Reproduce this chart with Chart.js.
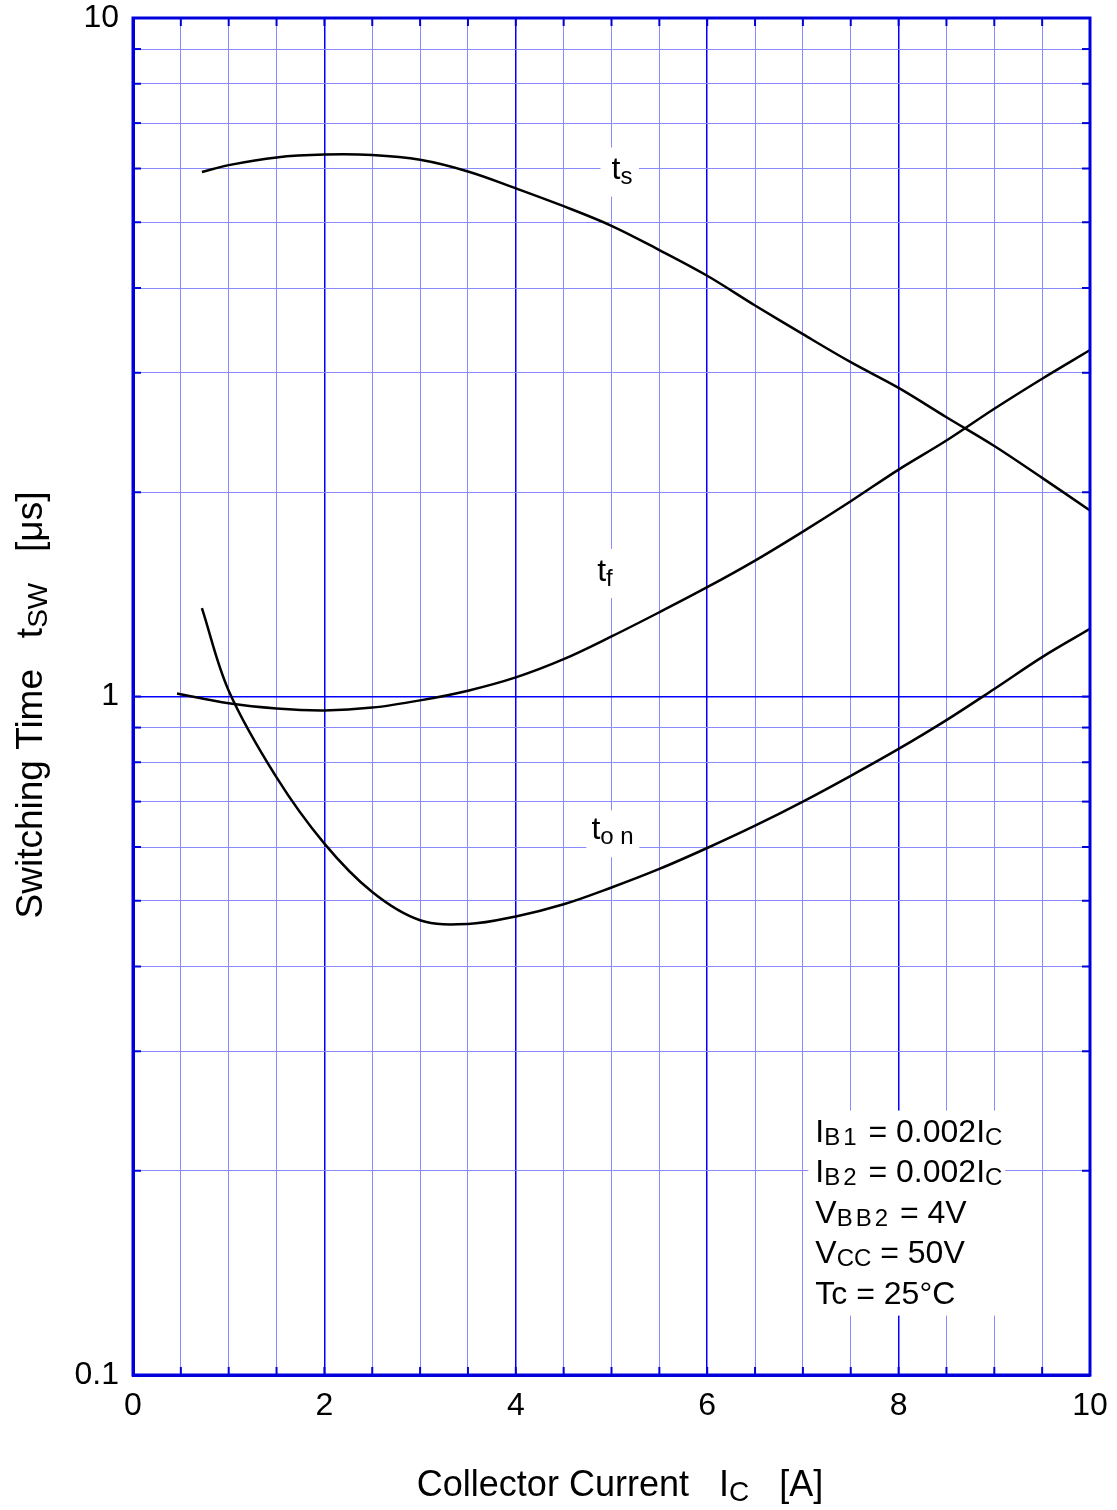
<!DOCTYPE html>
<html><head><meta charset="utf-8">
<script src="https://cdn.jsdelivr.net/npm/chart.js@4.4.1/dist/chart.umd.min.js"></script>
<style>html,body{margin:0;padding:0;background:#fff}canvas{display:block}</style>
</head><body>
<canvas id="c" width="1117" height="1510"></canvas>
<script>
// ---- axis grid / tick labels ----
const X_GRID = [0,0.5,1,1.5,2,2.5,3,3.5,4,4.5,5,5.5,6,6.5,7,7.5,8,8.5,9,9.5,10];
const X_TICK_LABELS = ['0','2','4','6','8','10'];
const Y_GRID = [0.1,0.2,0.3,0.4,0.5,0.6,0.7,0.8,0.9,1,2,3,4,5,6,7,8,9,10];
const Y_TICK_LABELS = ['0.1','1','10'];

// ---- series: storage time ts ----
const TS_IC = [0.72,1.0,1.5,2.0,2.5,3.0,3.5,4.0,4.5,5.0,5.5,6.0,6.5,7.0,7.5,8.0,8.5,9.0,9.5,10];
const TS_T  = [5.93,6.07,6.23,6.29,6.28,6.18,5.94,5.61,5.28,4.94,4.55,4.17,3.77,3.42,3.11,2.85,2.58,2.34,2.10,1.88];
// ---- fall time tf ----
const TF_IC = [0.46,1.0,1.5,2.0,2.5,3.0,3.5,4.0,4.5,5.0,5.5,6.0,6.5,7.0,7.5,8.0,8.5,9.0,9.5,10];
const TF_T  = [1.01,0.977,0.960,0.954,0.963,0.987,1.02,1.067,1.135,1.226,1.331,1.449,1.586,1.75,1.94,2.16,2.384,2.655,2.94,3.24];
// ---- turn-on time ton ----
const TON_IC = [0.72,1.0,1.5,2.0,2.5,3.0,3.5,4.0,4.5,5.0,5.5,6.0,6.5,7.0,7.5,8.0,8.5,9.0,9.5,10];
const TON_T  = [1.35,1.02,0.760,0.607,0.515,0.468,0.462,0.474,0.494,0.523,0.557,0.598,0.645,0.700,0.764,0.837,0.923,1.026,1.143,1.258];

const SERIES_NAMES = ['ts','tf','ton'];
const CONDITIONS = [
  [['I',0],['B1',1],[' = 0.002I',0],['C',1]],
  [['I',0],['B2',1],[' = 0.002I',0],['C',1]],
  [['V',0],['BB2',1],[' = 4V',0]],
  [['V',0],['CC',1],[' = 50V',0]],
  [['Tc = 25°C',0]]
];

const FONT = "'Liberation Sans', Arial, sans-serif";
const MAJOR = '#0000ff', MINOR = '#8a8aff', BORDER = '#0000dd';

function pts(xs, ys){ return xs.map((x,i)=>({x:x, y:ys[i]})); }

function drawRuns(ctx, runs, x, y, align){
  let w = 0;
  runs.forEach(r=>{ ctx.font = r.size+'px '+FONT; ctx.letterSpacing = (r.ls||0)+'px'; r.w = ctx.measureText(r.t).width; w += r.w; });
  let cx = align==='center' ? x - w/2 : x;
  ctx.textAlign = 'left'; ctx.textBaseline = 'alphabetic'; ctx.fillStyle = '#000';
  runs.forEach(r=>{ ctx.font = r.size+'px '+FONT; ctx.letterSpacing = (r.ls||0)+'px'; ctx.fillText(r.t, cx, y + (r.dy||0)); cx += r.w; });
  ctx.letterSpacing = '0px';
  return w;
}

const decor = {
  id: 'decor',
  beforeDatasetsDraw(chart){
    const ctx = chart.ctx, xs = chart.scales.x, ys = chart.scales.y;
    ctx.save();
    const labels = [
      {x:5.0, y:5.8, sub:'s', box:[-11,-31,24,14]},
      {x:4.85, y:1.48, sub:'f', box:[-4,-32,23,13]},
      {x:4.79, y:0.616, sub:'o n', box:[-5,-29,46,14]}
    ];
    labels.forEach(l=>{
      const px = xs.getPixelForValue(l.x), py = ys.getPixelForValue(l.y);
      ctx.font = '23px '+FONT;
      const subW = ctx.measureText(l.sub).width;
      ctx.fillStyle = '#fff';
      ctx.fillRect(px + l.box[0], py + l.box[1], 10 + subW - l.box[0] + 6, l.box[3] - l.box[1] + 4);
      drawRuns(ctx, [{t:'t', size:32}, {t:l.sub, size:24, dy:5}], px, py, 'left');
    });
    const cx0 = xs.getPixelForValue(7.13), cy0 = ys.getPixelForValue(0.2208);
    ctx.fillStyle = '#fff';
    ctx.fillRect(cx0 - 7, cy0 - 31, 197, 205);
    CONDITIONS.forEach((line, i)=>{
      const runs = line.map(s => s[1] ? {t:s[0], size:24, dy:3, ls:(s[0].length>1 && /\d/.test(s[0]))?3:0} : {t:s[0], size:32});
      drawRuns(ctx, runs, cx0, cy0 + i*40.6, 'left');
    });
    ctx.restore();
  },
  afterDraw(chart){
    const ctx = chart.ctx, a = chart.chartArea, xs = chart.scales.x, ys = chart.scales.y;
    ctx.save();
    ctx.strokeStyle = BORDER; ctx.lineWidth = 2;
    X_GRID.slice(1,-1).forEach(v=>{
      const p = xs.getPixelForValue(v);
      ctx.beginPath(); ctx.moveTo(p, a.top); ctx.lineTo(p, a.top+8); ctx.stroke();
      ctx.beginPath(); ctx.moveTo(p, a.bottom); ctx.lineTo(p, a.bottom-8); ctx.stroke();
    });
    Y_GRID.slice(1,-1).forEach(v=>{
      const p = ys.getPixelForValue(v);
      ctx.beginPath(); ctx.moveTo(a.left, p); ctx.lineTo(a.left+8, p); ctx.stroke();
      ctx.beginPath(); ctx.moveTo(a.right, p); ctx.lineTo(a.right-8, p); ctx.stroke();
    });
    ctx.lineWidth = 3;
    ctx.strokeRect(a.left, a.top, a.right-a.left, a.bottom-a.top);
    drawRuns(ctx, [{t:'Collector Current   I', size:36}, {t:'C', size:28, dy:5}, {t:'   [A]', size:36}], 620, 1496, 'center');
    ctx.translate(42, 705); ctx.rotate(-Math.PI/2);
    drawRuns(ctx, [{t:'Switching Time   t', size:37}, {t:'SW', size:28, dy:5}, {t:'   [\u03bcs]', size:37}], 0, 0, 'center');
    ctx.restore();
  }
};

const lineStyle = {borderColor:'#000', borderWidth:2.5, pointRadius:0, fill:false, tension:0.35};

new Chart(document.getElementById('c'), {
  type: 'line',
  data: { datasets: [
    Object.assign({label:SERIES_NAMES[0], data:pts(TS_IC, TS_T)}, lineStyle),
    Object.assign({label:SERIES_NAMES[1], data:pts(TF_IC, TF_T)}, lineStyle),
    Object.assign({label:SERIES_NAMES[2], data:pts(TON_IC, TON_T)}, lineStyle)
  ]},
  options: {
    responsive:false, animation:false, devicePixelRatio:1,
    layout:{padding:{top:18, right:27, left:0, bottom:0}},
    plugins:{legend:{display:false}, tooltip:{enabled:false}},
    scales:{
      x:{
        type:'linear', min:0, max:10,
        afterBuildTicks(s){ s.ticks = X_GRID.map(v=>({value:v})); },
        afterFit(s){ s.height = 135; s.paddingLeft = 0; s.paddingRight = 0; },
        ticks:{ autoSkip:false, maxRotation:0, padding:12, color:'#000', font:{family:FONT, size:32},
          callback(v){ const t = String(v); return X_TICK_LABELS.includes(t) ? t : ''; } },
        grid:{ drawTicks:false, color(c){ return (c.tick && c.tick.value % 2 === 0) ? MAJOR : MINOR; },
          lineWidth(c){ return (c.tick && c.tick.value % 2 === 0) ? 1.5 : 1; } },
        border:{ display:true, color:BORDER, width:3 }
      },
      y:{
        type:'logarithmic', min:0.1, max:10,
        afterBuildTicks(s){ s.ticks = Y_GRID.map(v=>({value:v})); },
        afterFit(s){ s.width = 133; s.paddingTop = 0; s.paddingBottom = 0; },
        ticks:{ autoSkip:false, padding:14, color:'#000', font:{family:FONT, size:32},
          callback(v){ const t = String(v); return Y_TICK_LABELS.includes(t) ? t : ''; } },
        grid:{ drawTicks:false, color(c){ return (c.tick && c.tick.value === 1) ? MAJOR : MINOR; },
          lineWidth(c){ return (c.tick && c.tick.value === 1) ? 1.5 : 1; } },
        border:{ display:true, color:BORDER, width:3 }
      }
    }
  },
  plugins:[decor]
});
</script>
</body></html>
